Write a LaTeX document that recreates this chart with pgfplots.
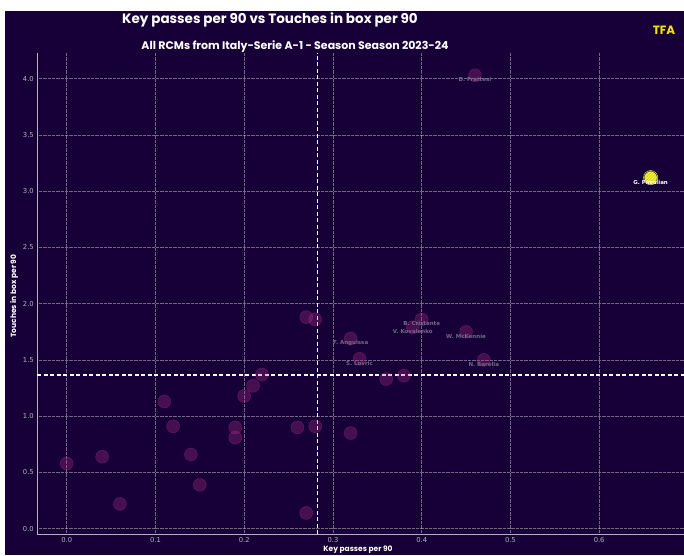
\documentclass[border=0pt]{standalone}
\usepackage{fontspec}
\setmainfont{DejaVu Sans}
\newfontfamily\pop{Poppins}
\usepackage{pgfplots}
\pgfplotsset{compat=1.18}
\usetikzlibrary{patterns}
\definecolor{bg}{HTML}{170037}
\definecolor{pinkc}{HTML}{B4328A}
\definecolor{ylw}{HTML}{E2E000}
\definecolor{tfa}{HTML}{F2E600}
\definecolor{tickc}{HTML}{B5B0C5}
\definecolor{fadelbl}{HTML}{726889}

\pgfplotstableread[col sep=comma]{
x,y,label
0.32,1.69,F. Anguissa
0.33,1.51,S. Lovric
0.40,1.86,B. Cristante
0.39,1.79,V. Kovalenko
0.45,1.75,W. McKennie
0.47,1.50,N. Barella
0.46,4.03,D. Frattesi
}\labelled

\begin{document}
\begin{tikzpicture}[x=1pt,y=1pt]
\clip (0,0) rectangle (684,555);
\fill[white] (0,0) rectangle (684,555);
\fill[bg] (5,0) rectangle (684,544);

\begin{axis}[
  at={(37.3pt,20.7pt)}, anchor=south west,
  scale only axis, width=650.6pt, height=481.3pt,
  xmin=-0.0331, xmax=0.70, ymin=-0.05, ymax=4.228,
  axis lines*=left,
  axis line style={-, draw=tickc, line width=1.1pt},
  xtick={0,0.1,...,0.6}, ytick={0,0.5,...,4.0},
  xticklabel style={/pgf/number format/.cd, fixed, fixed zerofill, precision=1},
  yticklabel style={/pgf/number format/.cd, fixed, fixed zerofill, precision=1},
  /pgf/number format/assume math mode=true,
  ticklabel style={font=\fontsize{6.8}{7}\selectfont, text=tickc},
  major tick length=0pt,
  grid=major,
  major grid style={white, opacity=0.4, line width=0.6pt, dash pattern=on 0.7pt off 0.6pt},
  clip=false,
]
% average lines
\addplot[white, line width=1.1pt, dash pattern=on 4pt off 2.5pt] coordinates {(0.2824,-0.05)(0.2824,4.228)};
\addplot[white, line width=1.1pt, dash pattern=on 4pt off 2.5pt] coordinates {(-0.0331,1.366)(0.70,1.366)};

% other players
\addplot[only marks, mark=*, mark size=6.5pt,
  mark options={fill=pinkc, fill opacity=0.3, draw=pinkc, draw opacity=0.3, line width=0.6pt}]
  table {
x y
0.00 0.58
0.04 0.64
0.06 0.22
0.11 1.13
0.12 0.91
0.14 0.66
0.15 0.39
0.19 0.90
0.19 0.81
0.20 1.18
0.21 1.27
0.22 1.37
0.26 0.90
0.28 0.91
0.27 0.14
0.32 0.85
0.36 1.33
0.38 1.36
0.27 1.88
0.28 1.86
};

% players above both averages
\addplot[only marks, mark=*, mark size=6.5pt,
  mark options={fill=pinkc, fill opacity=0.3, draw=pinkc, draw opacity=0.3, line width=0.6pt}]
  table [x=x, y=y] {\labelled};

% highlighted player
\addplot[only marks, mark=*, mark size=7pt,
  mark options={fill=ylw, draw=white!75!ylw, line width=0.6pt}]
  coordinates {(0.658,3.12)};
\addplot[only marks, mark=*, mark size=6.6pt,
  mark options={draw=none, pattern=north east lines, pattern color=white!55!ylw}]
  coordinates {(0.658,3.12)};

% name labels on top
\addplot[only marks, mark=none,
  nodes near coords, point meta=explicit symbolic,
  every node near coord/.style={anchor=center, yshift=-4.5pt,
    font=\bfseries\fontsize{5.5}{5.5}\selectfont, text=fadelbl, inner sep=0pt}]
  table [x=x, y=y, meta=label] {\labelled};
\addplot[only marks, mark=none,
  nodes near coords, point meta=explicit symbolic,
  every node near coord/.style={anchor=center, yshift=-4.5pt,
    font=\bfseries\fontsize{5.5}{5.5}\selectfont, text=white, inner sep=0pt}]
  table [meta=label, col sep=comma] {
x,y,label
0.658,3.12,G. Pasalian
};
\end{axis}

\node[white, font=\pop\bfseries\fontsize{13.5}{14}\selectfont] at (270,535) {Key passes per 90 vs Touches in box per 90};
\node[white, font=\pop\bfseries\fontsize{11}{12}\selectfont] at (295,508.5) {All RCMs from Italy-Serie A-1 - Season Season 2023-24};
\node[tfa, font=\pop\bfseries\fontsize{12}{12}\selectfont] at (664,525) {TFA};
\node[white, rotate=90, font=\pop\bfseries\fontsize{7.5}{8}\selectfont] at (14,259) {Touches in box per 90};
\node[white, font=\pop\bfseries\fontsize{7.5}{8}\selectfont] at (358,5) {Key passes per 90};
\end{tikzpicture}
\end{document}
